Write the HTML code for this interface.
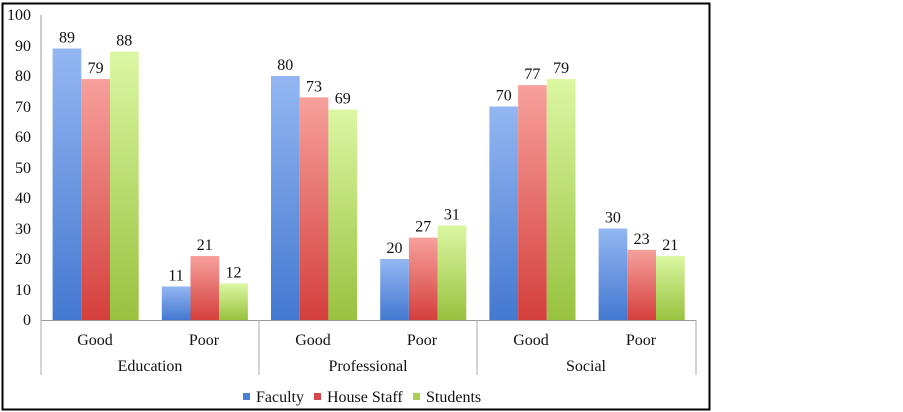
<!DOCTYPE html>
<html><head><style>body{margin:0;background:#fff}svg{display:block}text{font-family:"Liberation Serif",serif;font-size:16px;fill:#111}</style></head><body>
<svg width="903" height="412" xmlns="http://www.w3.org/2000/svg">
<defs>
<linearGradient id="b" x1="0" y1="0" x2="0" y2="1"><stop offset="0" stop-color="#93b7f2"/><stop offset="1" stop-color="#4478d0"/></linearGradient>
<linearGradient id="r" x1="0" y1="0" x2="0" y2="1"><stop offset="0" stop-color="#f7a09c"/><stop offset="1" stop-color="#d43f3c"/></linearGradient>
<linearGradient id="g" x1="0" y1="0" x2="0" y2="1"><stop offset="0" stop-color="#dbf7a2"/><stop offset="1" stop-color="#98c23f"/></linearGradient>
</defs>
<rect x="2.5" y="3.5" width="707" height="406" fill="#fff" stroke="#000" stroke-width="2"/>
<g text-anchor="end">
<text x="31" y="20">100</text><text x="31" y="51">90</text><text x="31" y="81">80</text><text x="31" y="112">70</text><text x="31" y="142">60</text><text x="31" y="173">50</text><text x="31" y="203">40</text><text x="31" y="234">30</text><text x="31" y="264">20</text><text x="31" y="295">10</text><text x="31" y="325">0</text>
</g>
<line x1="41" y1="15" x2="41" y2="320" stroke="#999"/>
<g>
<rect x="52.6" y="48.55" width="28.7" height="271.45" fill="url(#b)"/>
<rect x="81.3" y="79.05" width="28.7" height="240.95" fill="url(#r)"/>
<rect x="110.0" y="51.6" width="28.7" height="268.4" fill="url(#g)"/>
<rect x="161.8" y="286.45" width="28.7" height="33.55" fill="url(#b)"/>
<rect x="190.5" y="255.95" width="28.7" height="64.05" fill="url(#r)"/>
<rect x="219.2" y="283.4" width="28.7" height="36.6" fill="url(#g)"/>
<rect x="271.0" y="76" width="28.7" height="244" fill="url(#b)"/>
<rect x="299.7" y="97.35" width="28.7" height="222.65" fill="url(#r)"/>
<rect x="328.4" y="109.55" width="28.7" height="210.45" fill="url(#g)"/>
<rect x="380.2" y="259" width="28.7" height="61" fill="url(#b)"/>
<rect x="408.9" y="237.65" width="28.7" height="82.35" fill="url(#r)"/>
<rect x="437.6" y="225.45" width="28.7" height="94.55" fill="url(#g)"/>
<rect x="489.4" y="106.5" width="28.7" height="213.5" fill="url(#b)"/>
<rect x="518.1" y="85.15" width="28.7" height="234.85" fill="url(#r)"/>
<rect x="546.8" y="79.05" width="28.7" height="240.95" fill="url(#g)"/>
<rect x="598.6" y="228.5" width="28.7" height="91.5" fill="url(#b)"/>
<rect x="627.3" y="249.85" width="28.7" height="70.15" fill="url(#r)"/>
<rect x="656.0" y="255.95" width="28.7" height="64.05" fill="url(#g)"/>
</g>
<g text-anchor="middle">
<text x="67.0" y="42.5">89</text><text x="95.6" y="73">79</text><text x="124.3" y="45.6">88</text>
<text x="176.1" y="280.4">11</text><text x="204.8" y="250">21</text><text x="233.5" y="277.4">12</text>
<text x="285.3" y="70">80</text><text x="314.0" y="91.3">73</text><text x="342.7" y="103.5">69</text>
<text x="394.5" y="253">20</text><text x="423.2" y="231.6">27</text><text x="451.9" y="219.4">31</text>
<text x="503.7" y="100.5">70</text><text x="532.4" y="79.1">77</text><text x="561.1" y="73">79</text>
<text x="612.9" y="222.5">30</text><text x="641.6" y="243.8">23</text><text x="670.3" y="250">21</text>
</g>
<line x1="41" y1="320.5" x2="696" y2="320.5" stroke="#999"/>
<g stroke="#aaa"><line x1="41" y1="320" x2="41" y2="375"/><line x1="259" y1="320" x2="259" y2="375"/><line x1="477" y1="320" x2="477" y2="375"/><line x1="696" y1="320" x2="696" y2="375"/></g>
<g text-anchor="middle">
<text x="95" y="345">Good</text><text x="204" y="345">Poor</text><text x="313" y="345">Good</text><text x="422" y="345">Poor</text><text x="531" y="345">Good</text><text x="641" y="345">Poor</text>
<text x="150" y="371">Education</text><text x="368" y="371">Professional</text><text x="586" y="371">Social</text>
</g>
<rect x="243" y="393" width="7" height="7" fill="#4a7fd4"/><text x="256" y="402">Faculty</text>
<rect x="314" y="393" width="7" height="7" fill="#d64848"/><text x="327" y="402">House Staff</text>
<rect x="413" y="393" width="7" height="7" fill="#a8d050"/><text x="426" y="402">Students</text>
</svg>
</body></html>
